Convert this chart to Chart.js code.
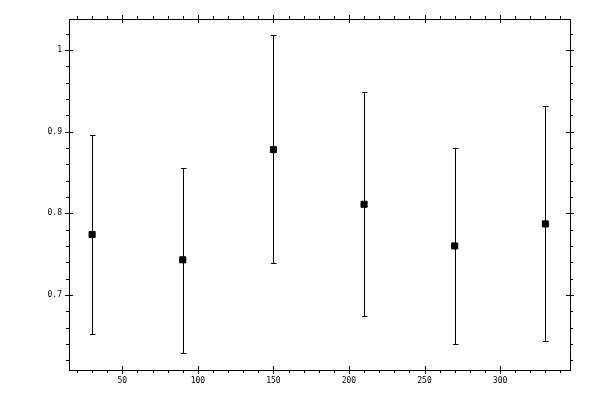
<!DOCTYPE html>
<html>
<head>
<meta charset="utf-8">
<script src="https://cdn.jsdelivr.net/npm/chart.js@4/dist/chart.umd.min.js"></script>
<style>
  html, body { margin: 0; padding: 0; background: #fff; }
  canvas { display: block; }
</style>
</head>
<body>
<canvas id="c" width="600" height="400"></canvas>
<script>
// ---- data ----
const xValues   = [30, 90, 150, 210, 270, 330];
const yValues   = [0.774, 0.743, 0.878, 0.811, 0.760, 0.787];
const yErrLow   = [0.652, 0.629, 0.739, 0.674, 0.640, 0.643];
const yErrHigh  = [0.896, 0.855, 1.018, 0.948, 0.880, 0.931];
const xTickLabels = [50, 100, 150, 200, 250, 300];
const yTickLabels = [0.7, 0.8, 0.9, 1];
const xRange = [14.7, 346.3];
const yRange = [0.608, 1.038];
const xMinorStep = 10;
const yMinorStep = 0.02;

const errorBarPlugin = {
  id: 'errorBars',
  beforeDatasetsDraw(chart) {
    const ctx = chart.ctx, xs = chart.scales.x, ys = chart.scales.y;
    ctx.save();
    ctx.strokeStyle = '#000';
    ctx.lineWidth = 1;
    for (let i = 0; i < xValues.length; i++) {
      const px = Math.round(xs.getPixelForValue(xValues[i])) + 0.5;
      const yt = Math.round(ys.getPixelForValue(yErrHigh[i])) + 0.5;
      const yb = Math.round(ys.getPixelForValue(yErrLow[i])) + 0.5;
      ctx.beginPath();
      ctx.moveTo(px, yt); ctx.lineTo(px, yb);
      ctx.moveTo(px - 2.5, yt); ctx.lineTo(px + 3, yt);
      ctx.moveTo(px - 2.5, yb); ctx.lineTo(px + 3, yb);
      ctx.stroke();
    }
    ctx.restore();
  }
};

const tickPlugin = {
  id: 'frameTicks',
  afterDraw(chart) {
    const ctx = chart.ctx, ca = chart.chartArea, xs = chart.scales.x, ys = chart.scales.y;
    ctx.save();
    ctx.strokeStyle = '#000';
    ctx.lineWidth = 1;
    ctx.beginPath();
    const isMajorX = v => xTickLabels.some(t => Math.abs(t - v) < 1e-6);
    const isMajorY = v => yTickLabels.some(t => Math.abs(t - v) < 1e-6);
    const x0 = Math.ceil(xRange[0] / xMinorStep), x1 = Math.floor(xRange[1] / xMinorStep);
    for (let k = x0; k <= x1; k++) {
      const v = k * xMinorStep;
      const px = Math.round(xs.getPixelForValue(v)) + 0.5;
      const major = isMajorX(v);
      const inn = major ? 4 : 0, out = major ? 4 : 3;
      ctx.moveTo(px, ca.bottom - inn); ctx.lineTo(px, ca.bottom + out);
      ctx.moveTo(px, ca.top + inn); ctx.lineTo(px, ca.top - out);
    }
    const y0 = Math.ceil(yRange[0] / yMinorStep - 1e-9), y1 = Math.floor(yRange[1] / yMinorStep + 1e-9);
    for (let k = y0; k <= y1; k++) {
      const v = +(k * yMinorStep).toFixed(4);
      const py = Math.round(ys.getPixelForValue(v)) + 0.5;
      const major = isMajorY(v);
      const inn = major ? 4 : 0, out = major ? 4 : 3;
      ctx.moveTo(ca.left + inn, py); ctx.lineTo(ca.left - out, py);
      ctx.moveTo(ca.right - inn, py); ctx.lineTo(ca.right + out, py);
    }
    ctx.stroke();
    ctx.restore();
  }
};

Chart.defaults.font.family = '"DejaVu Sans Mono", monospace';
Chart.defaults.font.size = 8;
Chart.defaults.color = '#000';

const axisBorder = { display: true, color: '#000', width: 1 };

new Chart(document.getElementById('c'), {
  type: 'scatter',
  data: {
    datasets: [{
      data: xValues.map((x, i) => ({ x: x, y: yValues[i] })),
      pointStyle: 'rect',
      pointRadius: 4.3,
      pointHoverRadius: 4.3,
      backgroundColor: '#000',
      borderColor: '#000',
      borderWidth: 1,
      showLine: false
    }]
  },
  options: {
    responsive: false,
    animation: false,
    devicePixelRatio: 1,
    layout: { padding: 0 },
    plugins: { legend: { display: false }, tooltip: { enabled: false } },
    scales: {
      x: {
        type: 'linear', position: 'bottom',
        min: xRange[0], max: xRange[1],
        afterBuildTicks: s => { s.ticks = xTickLabels.map(v => ({ value: v })); },
        afterFit: s => { s.height = 30; },
        ticks: { padding: 6, maxRotation: 0, autoSkip: false, callback: v => String(v) },
        grid: { display: false, drawTicks: false },
        border: axisBorder
      },
      x2: {
        type: 'linear', position: 'top',
        min: xRange[0], max: xRange[1],
        afterFit: s => { s.height = 19; },
        ticks: { display: false },
        grid: { display: false, drawTicks: false },
        border: axisBorder
      },
      y: {
        type: 'linear', position: 'left',
        min: yRange[0], max: yRange[1],
        afterBuildTicks: s => { s.ticks = yTickLabels.map(v => ({ value: v })); },
        afterFit: s => { s.width = 69; },
        ticks: { padding: 7, autoSkip: false, callback: v => String(v) },
        grid: { display: false, drawTicks: false },
        border: axisBorder
      },
      y2: {
        type: 'linear', position: 'right',
        min: yRange[0], max: yRange[1],
        afterFit: s => { s.width = 30; },
        ticks: { display: false },
        grid: { display: false, drawTicks: false },
        border: axisBorder
      }
    }
  },
  plugins: [errorBarPlugin, tickPlugin]
});
</script>
</body>
</html>
